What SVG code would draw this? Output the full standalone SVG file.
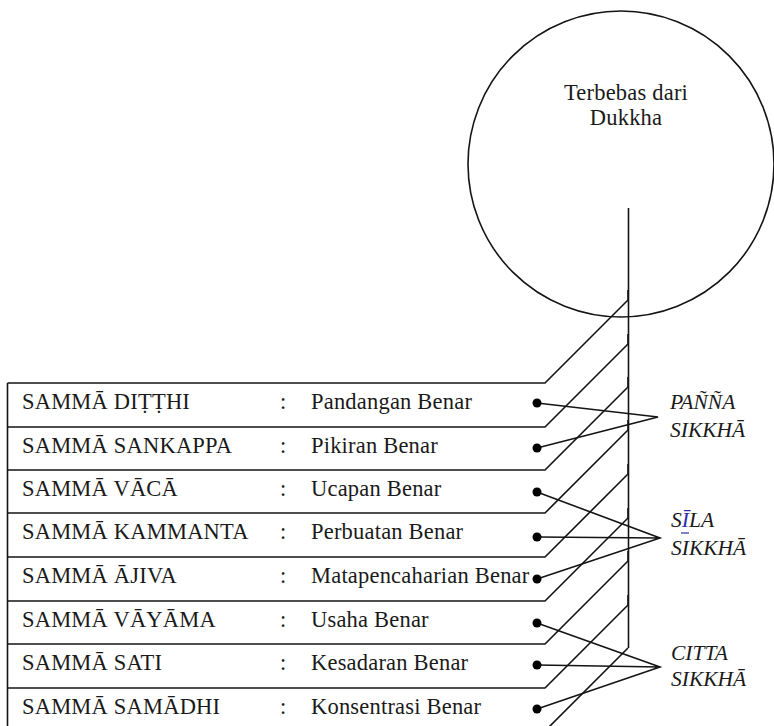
<svg xmlns="http://www.w3.org/2000/svg" width="774" height="726" viewBox="0 0 774 726">
<style>
  .ln{fill:none;stroke:#141414;stroke-width:1.6}
  .t{font-family:'Liberation Serif','Times New Roman',serif;font-size:22.5px;letter-spacing:0.2px;fill:#1a1a1a}
  .it{font-family:'Liberation Serif','Times New Roman',serif;font-size:21.5px;font-style:italic;fill:#1a1a1a}
  .dot{fill:#000}
</style>
<rect width="774" height="726" fill="#fff"/>
<g id="goal">
  <circle class="ln" cx="621" cy="164" r="153"/>
  <text class="t" x="626" y="100" text-anchor="middle">Terbebas dari</text>
  <text class="t" x="626" y="125" text-anchor="middle">Dukkha</text>
</g>
<g id="connectors">
  <path class="ln" d="M628.5 208 V648"/>
  <path class="ln" d="M7.5 383 V726"/>
  <path class="ln" d="M7.5 383 H545 L628 300 V290"/>
  <path class="ln" d="M7.5 427 H545 L628 344 V334"/>
  <path class="ln" d="M7.5 470 H545 L628 387 V377"/>
  <path class="ln" d="M7.5 513 H545 L628 430 V420"/>
  <path class="ln" d="M7.5 557 H545 L628 474 V464"/>
  <path class="ln" d="M7.5 601 H545 L628 518 V508"/>
  <path class="ln" d="M7.5 644 H545 L628 561 V551"/>
  <path class="ln" d="M7.5 688 H545 L628 605 V595"/>
  <path class="ln" d="M7.5 731 H545 L628 648"/>
  <path class="ln" d="M537 403 L658 417 L537 448"/>
  <path class="ln" d="M537 492 L660 538 L537 579 M537 537 L660 538"/>
  <path class="ln" d="M537 623 L660 667 L537 709 M537 665 L660 667"/>
</g>
<g id="row1"><text class="t" x="22" y="409">SAMMĀ DIṬṬHI</text><text class="t" x="280" y="409">:</text><text class="t" x="311" y="409">Pandangan Benar</text><circle class="dot" cx="537" cy="403" r="4.5"/></g>
<g id="row2"><text class="t" x="22" y="453">SAMMĀ SANKAPPA</text><text class="t" x="280" y="453">:</text><text class="t" x="311" y="453">Pikiran Benar</text><circle class="dot" cx="537" cy="448" r="4.5"/></g>
<g id="row3"><text class="t" x="22" y="496">SAMMĀ VĀCĀ</text><text class="t" x="280" y="496">:</text><text class="t" x="311" y="496">Ucapan Benar</text><circle class="dot" cx="537" cy="492" r="4.5"/></g>
<g id="row4"><text class="t" x="22" y="539">SAMMĀ KAMMANTA</text><text class="t" x="280" y="539">:</text><text class="t" x="311" y="539">Perbuatan Benar</text><circle class="dot" cx="537" cy="537" r="4.5"/></g>
<g id="row5"><text class="t" x="22" y="583">SAMMĀ ĀJIVA</text><text class="t" x="280" y="583">:</text><text class="t" x="311" y="583">Matapencaharian Benar</text><circle class="dot" cx="537" cy="579" r="4.5"/></g>
<g id="row6"><text class="t" x="22" y="627">SAMMĀ VĀYĀMA</text><text class="t" x="280" y="627">:</text><text class="t" x="311" y="627">Usaha Benar</text><circle class="dot" cx="537" cy="623" r="4.5"/></g>
<g id="row7"><text class="t" x="22" y="670">SAMMĀ SATI</text><text class="t" x="280" y="670">:</text><text class="t" x="311" y="670">Kesadaran Benar</text><circle class="dot" cx="537" cy="665" r="4.5"/></g>
<g id="row8"><text class="t" x="22" y="714">SAMMĀ SAMĀDHI</text><text class="t" x="280" y="714">:</text><text class="t" x="311" y="714">Konsentrasi Benar</text><circle class="dot" cx="537" cy="709" r="4.5"/></g>
<g id="panna"><text class="it" x="670" y="409">PAÑÑA</text><text class="it" x="670" y="437">SIKKHĀ</text></g>
<g id="sila"><text class="it" x="671" y="527">S<tspan fill="#2c2ca8">Ī</tspan>LA</text><line x1="681" y1="533" x2="689" y2="533" stroke="#2c2ca8" stroke-width="1.2"/><text class="it" x="671" y="555">SIKKHĀ</text></g>
<g id="citta"><text class="it" x="671" y="660">CITTA</text><text class="it" x="671" y="686">SIKKHĀ</text></g>
</svg>
